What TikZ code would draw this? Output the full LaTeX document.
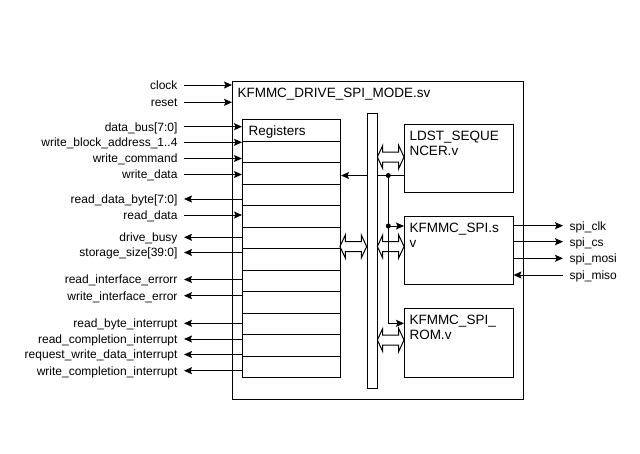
\documentclass[tikz,border=0pt]{standalone}
\usepackage{fontspec}
\setmainfont{Liberation Sans}
\usetikzlibrary{arrows.meta,shapes.arrows}

\begin{document}
\begin{tikzpicture}[
    x=1pt, y=-1pt, line width=1pt,
    font=\fontsize{12}{14}\selectfont,
    module/.style={draw, inner sep=0pt, anchor=north west},
    modname/.style={anchor=north west, inner xsep=5pt, inner ysep=6.5pt,
                    align=left, font=\fontsize{13.5}{15}\selectfont},
    regrow/.style={draw, inner sep=0pt, anchor=north west,
                   minimum width=98pt, minimum height=21.5pt},
    port/.style={inner xsep=6pt, inner ysep=0pt, text height=8.6pt, text depth=0pt},
    wire/.style={-{Stealth[length=8pt, width=7pt, inset=1.5pt]}},
    busarrow/.style={double arrow, draw, inner xsep=0pt, inner ysep=4.5pt,
                     double arrow head extend=6.5pt, double arrow tip angle=130},
    dot/.style={circle, fill, inner sep=0pt, minimum size=5pt}
]
\useasboundingbox (0,0) rectangle (640,453);

% module frame
\node[module, minimum width=290.5pt, minimum height=317.5pt] (top) at (232,81) {};
\node[modname] (toptitle) at (top.north west) {KFMMC\_DRIVE\_SPI\_MODE.sv};

% register file
\foreach \i in {1,...,12}
  \node[regrow] (row\i) at (242,{119+21.5*(\i-1)}) {};
\node[modname, inner xsep=6pt, inner ysep=6pt] (regtitle) at (row1.north west) {Registers};

% sub modules
\node[module, minimum width=108.5pt, minimum height=68pt] (ldst) at (404,124.3) {};
\node[modname] (ldsttitle) at (ldst.north west) {LDST\_SEQUE\\NCER.v};
\node[module, minimum width=108.5pt, minimum height=68pt] (spi) at (404,216) {};
\node[modname] (spititle) at (spi.north west) {KFMMC\_SPI.s\\v};
\node[module, minimum width=108.5pt, minimum height=69pt] (rom) at (404,308) {};
\node[modname] (romtitle) at (rom.north west) {KFMMC\_SPI\_\\ROM.v};

% control inputs
\foreach \y/\txt [count=\k] in {85/clock, 102.3/reset} {
  \node[port, anchor=east] (ctl\k) at (184,\y) {\txt};
  \draw[wire] (ctl\k.east) -- (top.west |- ctl\k.east);
}
% register inputs
\foreach \y/\txt [count=\k] in {126.7/data\_bus[7:0], 142.3/write\_block\_address\_1..4,
    158.5/write\_command, 174.5/write\_data, 215/read\_data} {
  \node[port, anchor=east] (din\k) at (184,\y) {\txt};
  \draw[wire] (din\k.east) -- (row1.west |- din\k.east);
}
% register outputs
\foreach \y/\txt [count=\k] in {199/read\_data\_byte[7:0], 237.3/drive\_busy,
    252.5/storage\_size[39:0], 279.5/read\_interface\_errorr,
    295.7/write\_interface\_error, 323.3/read\_byte\_interrupt,
    339/read\_completion\_interrupt, 354.5/request\_write\_data\_interrupt,
    370.7/write\_completion\_interrupt} {
  \node[port, anchor=east] (dout\k) at (184,\y) {\txt};
  \draw[wire] (row1.west |- dout\k.east) -- (dout\k.east);
}

% spi pins
\foreach \y/\txt [count=\k] in {225.7/spi\_clk, 241.7/spi\_cs, 258.3/spi\_mosi} {
  \node[port, anchor=west] (so\k) at (563,\y) {\txt};
  \draw[wire] (spi.east |- so\k.west) -- (so\k.west);
}
\node[port, anchor=west] (si) at (563,275) {spi\_miso};
\draw[wire] (si.west) -- (spi.east |- si.west);

% internal wiring
\coordinate (j1) at (388.3,175.5);
\coordinate (j2) at (388.3,226);
\coordinate (j3) at (388.3,323.3);
\draw[wire] (ldst.west |- j1) -- (row1.east |- j1);
\draw[wire] (j1) -- (j3) -- (rom.west |- j3);
\draw[wire] (j2) -- (spi.west |- j2);

% bus
\node[module, fill=white, minimum width=10.6pt, minimum height=275pt] (bar) at (366.7,113.3) {};
\node[dot] (d1) at (j1) {};
\node[dot] (d2) at (j2) {};
\node[busarrow, minimum height=26.7pt] (regbus) at (353.3,246.5) {};
\node[busarrow, minimum height=26.7pt] (busldst) at (390.7,157) {};
\node[busarrow, minimum height=26.7pt] (busspi) at (390.7,246.5) {};
\node[busarrow, minimum height=26.7pt] (busrom) at (390.7,340) {};
\end{tikzpicture}
\end{document}
